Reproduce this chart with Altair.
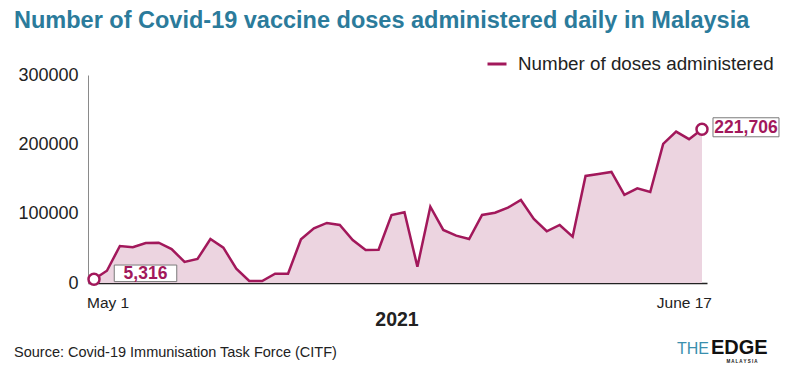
import altair as alt
import pandas as pd

# ---- data ----
start_label = "May 1"
end_label = "June 17"
doses = [5316, 17700, 53400, 51500, 57700, 58200, 49000, 30300, 34600, 63500,
         51000, 20600, 2900, 2900, 13400, 13400, 63000, 78900, 86600, 83700,
         62000, 47600, 48000, 98100, 102000, 23500, 110000, 76500, 68300, 63500,
         98100, 101400, 108700, 119800, 92400, 74600, 83700, 66800, 154400, 157300,
         160200, 127000, 136600, 131300, 200600, 218300, 207400, 221706]
y_ticks = [0, 100000, 200000, 300000]
series_name = "Number of doses administered"
first_label = "5,316"
last_label = "221,706"
year_label = "2021"
title_text = "Number of Covid-19 vaccine doses administered daily in Malaysia"
source_text = "Source: Covid-19 Immunisation Task Force (CITF)"

days = list(range(len(doses)))
df = pd.DataFrame({"day": days, "doses": doses, "series": [series_name] * len(doses)})
first_df = pd.DataFrame({"day": [days[0]], "doses": [doses[0]], "lab": [first_label], "tick": [start_label]})
last_df = pd.DataFrame({"day": [days[-1]], "doses": [doses[-1]], "lab": [last_label], "tick": [end_label]})

MAG = "#a2185b"
FILL = "#ecd4e0"
TEAL = "#2b7b9b"
FONT = "Liberation Sans"

xs = alt.Scale(domain=[-0.464, 47.387], nice=False, zero=False)
ys = alt.Scale(domain=[0, 300000], nice=False)
X = alt.X("day:Q", scale=xs, axis=alt.Axis(labels=False, ticks=False, grid=False, title=None,
                                             domainColor="#222222", domainWidth=1.5))
Y = alt.Y("doses:Q", scale=ys, axis=alt.Axis(values=y_ticks, format="d", ticks=False, grid=False,
                                               title=None, domainColor="#8a8a8a", domainWidth=1,
                                               labelPadding=10, labelFontSize=18, labelColor="#222222",
                                               labelFont=FONT))

base = alt.Chart(df)
area = base.mark_area(color=FILL, opacity=1).encode(x=X, y=Y)
line = base.mark_line(strokeWidth=2.5, strokeJoin="miter").encode(
    x="day:Q", y="doses:Q",
    color=alt.Color("series:N", scale=alt.Scale(domain=[series_name], range=[MAG]),
                    legend=alt.Legend(title=None, orient="none", legendX=398, legendY=-22,
                                      symbolType="stroke", symbolSize=361, symbolStrokeWidth=3,
                                      labelFontSize=18.8, labelColor="#222222", labelFont=FONT,
                                      labelOffset=10, padding=0, labelLimit=0)))

box_path1 = "M-1,-0.265H1V0.265H-1Z"
box_path2 = "M-1,-0.288H1V0.288H-1Z"

def annot(d, path, size, ox, oy, tick_align, tick_dx):
    c = alt.Chart(d)
    circ = c.mark_point(shape="circle", size=121, filled=True, fill="white", stroke=MAG,
                        strokeWidth=2.5, opacity=1).encode(x="day:Q", y="doses:Q")
    box = c.mark_point(shape=path, size=size, filled=True, fill="white", stroke="#7a7a7a",
                       strokeWidth=1, opacity=1, xOffset=ox, yOffset=oy).encode(x="day:Q", y="doses:Q")
    txt = c.mark_text(font=FONT, fontSize=17.5, fontWeight="bold", color=MAG, align="center",
                      baseline="middle", dx=ox, dy=oy + 1).encode(x="day:Q", y="doses:Q", text="lab:N")
    tick = c.mark_text(font=FONT, fontSize=15.5, color="#222222", align=tick_align,
                       baseline="alphabetic", dx=tick_dx, dy=25).encode(
        x="day:Q", y=alt.datum(0), text="tick:N")
    return [circ, box, txt, tick]

a1 = annot(first_df, box_path1, 62.5 ** 2, 51.5, -6, "left", -7)
a2 = annot(last_df, box_path2, 66 ** 2, 44, -2, "right", 10)

def label(text, x, y, size, weight="normal", color="#222222", align="left", font=FONT):
    return alt.Chart(pd.DataFrame({"t": [text]})).mark_text(
        font=font, fontSize=size, fontWeight=weight, color=color, align=align,
        baseline="alphabetic").encode(x=alt.value(x), y=alt.value(y), text="t:N")

title = label(title_text, -74, -47.5, 23.5, "bold", TEAL)
year = label(year_label, 309, 251, 19.5, "bold", "#222222", "center")
source = label(source_text, -74, 282, 14.5)
logo_the = label("THE", 621, 279, 16, "normal", "#3a8fae", "right")
logo_edge = label("EDGE", 623, 279, 20, "bold", "#111111", "left")
logo_my = label("M A L A Y S I A", 654, 288, 4.5, "bold", "#111111", "center")

chart = alt.layer(area, line, *a1, *a2, title, year, source, logo_the, logo_edge, logo_my).properties(
    width=619, height=208,
    autosize=alt.AutoSizeParams(type="none"),
    padding={"left": 80, "top": 67, "right": 76, "bottom": 95},
    background="white",
).configure_view(stroke=None)

chart.save("out.html", embed_options={"renderer": "svg", "actions": False})
